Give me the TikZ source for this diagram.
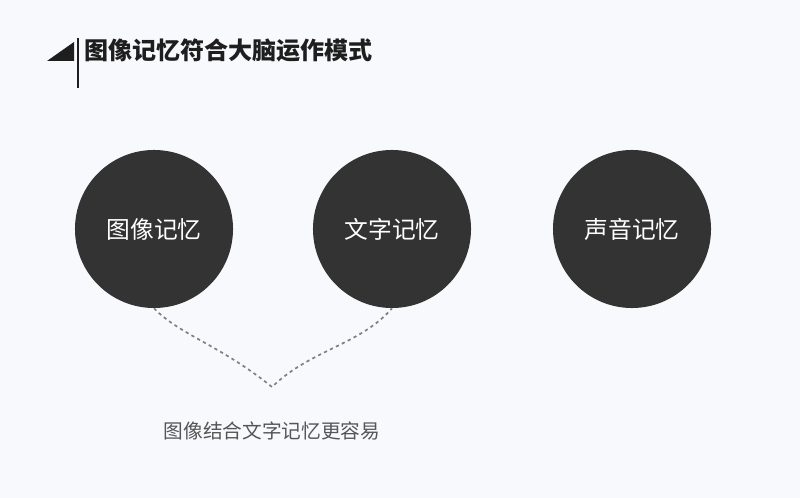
\documentclass[tikz,border=0pt]{standalone}
\usepackage{fontspec}
\usepackage{xcolor}
\usepackage{tikz}
\usetikzlibrary{positioning}
\newfontfamily\cjk{Noto Sans CJK SC}
\definecolor{bgpaper}{HTML}{F8F9FC}
\definecolor{darkdot}{HTML}{333333}
\definecolor{inksoft}{HTML}{555555}
\definecolor{dashgray}{HTML}{808080}
\definecolor{titleink}{HTML}{1E1E1E}

\tikzset{
  memdot/.style={circle, fill=darkdot, minimum size=3.95cm, inner sep=0pt,
    text=white, font=\cjk\fontsize{16.9}{20}\selectfont},
  linkline/.style={dashgray, line width=1.2pt, dash pattern=on 2.3pt off 2.4pt}
}

\begin{document}
\begin{tikzpicture}[x=0.025cm, y=-0.025cm]
  \fill[bgpaper] (0,0) rectangle (800,498);
  % Title
  \fill[titleink] (47,61) -- (74,42) -- (74,61) -- cycle;
  \draw[titleink, line width=0.8pt] (78,38) -- (78,88);
  \node[anchor=west, inner sep=0pt, text=titleink, font=\cjk\bfseries\fontsize{17.1}{20}\selectfont] (title) at (84,50) {图像记忆符合大脑运作模式};
  % Circles
  \node[memdot] (tuxiang) at (154,229) {图像记忆};
  \node[memdot] (wenzi) at (392,229) {文字记忆};
  \node[memdot] (shengyin) at (632,229) {声音记忆};
  % Dashed link
  \coordinate (apex) at (272,387);
  \draw[linkline] (tuxiang.south) .. controls (180,335) and (220,345) .. (apex)
    .. controls (310,350) and (360,345) .. (wenzi.south);
  \node[text=inksoft, font=\cjk\fontsize{14}{17}\selectfont] (jiehe) at (272,431) {图像结合文字记忆更容易};
\end{tikzpicture}
\end{document}
